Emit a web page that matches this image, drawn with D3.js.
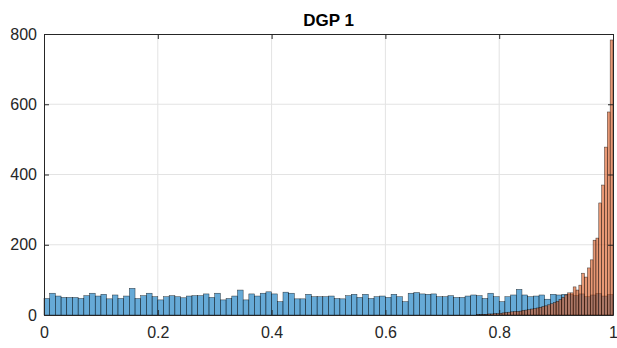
<!DOCTYPE html>
<html>
<head>
  <meta charset="utf-8">
  <title>DGP 1</title>
  <script src="https://d3js.org/d3.v7.min.js"></script>
  <style>
    body {
      margin: 0;
      background: #fff;
    }
    svg {
      display: block;
      font-family: "Liberation Sans", Arial, Helvetica, sans-serif;
    }
    .grid line {
      stroke: #e3e3e3;
      stroke-width: 1px;
    }
    .axis path, .axis line {
      stroke: #262626;
    }
    .axis text {
      fill: #262626;
      font-size: 16px;
    }
  </style>
</head>
<body>
  <svg width="617" height="348"></svg>

  <script>
    // Blue histogram: 100 bins of width 0.01 on [0, 1]
    const blueStart = 0, blueBinWidth = 0.01;
    const blueCounts = [
      47, 62, 54, 50, 50, 50, 47, 55, 62, 54,
      59, 46, 57, 47, 54, 76, 47, 55, 62, 52,
      43, 52, 55, 52, 49, 54, 55, 55, 60, 50,
      62, 43, 47, 54, 71, 43, 60, 54, 62, 66,
      60, 38, 65, 62, 46, 46, 59, 52, 52, 52,
      54, 47, 46, 55, 59, 50, 59, 47, 52, 54,
      50, 59, 52, 38, 62, 64, 60, 59, 60, 52,
      52, 55, 50, 50, 54, 57, 55, 47, 62, 52,
      38, 52, 57, 73, 57, 52, 54, 57, 45, 59,
      57, 59, 58, 55, 60, 52, 57, 61, 54, 58
    ];

    // Orange histogram: bins of width 0.005 starting at 0.76
    const orangeStart = 0.76, orangeBinWidth = 0.005;
    const orangeCounts = [
      1, 1, 2, 2, 3, 3, 4, 4, 5, 6,
      7, 8, 9, 10, 10, 11, 13, 14, 15, 17,
      18, 20, 22, 24, 26, 29, 32, 35, 39, 44,
      50, 57, 63, 63, 80, 71, 85, 119, 108, 134,
      157, 213, 219, 319, 370, 478, 578, 783
    ];

    const xTicks = [0, 0.2, 0.4, 0.6, 0.8, 1];
    const yTicks = [0, 200, 400, 600, 800];
    const title = "DGP 1";

    const svg = d3.select("svg");
    const margin = { left: 44, right: 4, top: 34, bottom: 33 };
    const width = +svg.attr("width"), height = +svg.attr("height");

    const x = d3.scaleLinear().domain([0, 1]).range([margin.left, width - margin.right]);
    const y = d3.scaleLinear().domain([0, 800]).range([height - margin.bottom, margin.top]);

    // turn counts into bins
    function toBins(start, w, counts) {
      return counts.map((c, i) => ({ x0: start + i * w, x1: start + (i + 1) * w, count: c }));
    }
    const blueBins = toBins(blueStart, blueBinWidth, blueCounts);
    const orangeBins = toBins(orangeStart, orangeBinWidth, orangeCounts);

    // grid lines (behind the bars)
    const grid = svg.append("g").attr("class", "grid");
    grid.selectAll("line.v").data(xTicks.slice(1, -1)).join("line")
      .attr("class", "v")
      .attr("x1", d => x(d)).attr("x2", d => x(d))
      .attr("y1", y(0)).attr("y2", y(800));
    grid.selectAll("line.h").data(yTicks.slice(1, -1)).join("line")
      .attr("class", "h")
      .attr("x1", x(0)).attr("x2", x(1))
      .attr("y1", d => y(d)).attr("y2", d => y(d));

    function drawBars(bins, color) {
      svg.append("g").selectAll("rect").data(bins).join("rect")
        .attr("x", d => x(d.x0))
        .attr("width", d => x(d.x1) - x(d.x0))
        .attr("y", d => y(d.count))
        .attr("height", d => y(0) - y(d.count))
        .attr("fill", color)
        .attr("fill-opacity", 0.6)
        .attr("stroke", "#000")
        .attr("stroke-opacity", 0.75)
        .attr("stroke-width", 0.5);
    }
    drawBars(blueBins, "#0072BD");
    drawBars(orangeBins, "#D95319");

    // axes, MATLAB style with ticks pointing inward
    svg.append("g").attr("class", "axis")
      .attr("transform", `translate(0,${y(0)})`)
      .call(d3.axisBottom(x).tickValues(xTicks).tickFormat(d3.format("~g"))
        .tickSizeInner(-5).tickSizeOuter(0).tickPadding(12));
    svg.append("g").attr("class", "axis")
      .attr("transform", `translate(${x(0)},0)`)
      .call(d3.axisLeft(y).tickValues(yTicks)
        .tickSizeInner(-5).tickSizeOuter(0).tickPadding(7));
    // top and right box sides
    svg.append("g").attr("class", "axis")
      .attr("transform", `translate(0,${y(800)})`)
      .call(d3.axisTop(x).tickValues(xTicks).tickFormat("").tickSizeInner(-5).tickSizeOuter(0));
    svg.append("g").attr("class", "axis")
      .attr("transform", `translate(${x(1)},0)`)
      .call(d3.axisRight(y).tickValues(yTicks).tickFormat("").tickSizeInner(-5).tickSizeOuter(0));

    svg.append("text")
      .attr("x", (x(0) + x(1)) / 2)
      .attr("y", 26)
      .attr("text-anchor", "middle")
      .attr("font-size", 17)
      .attr("font-weight", "bold")
      .attr("fill", "#000")
      .text(title);
  </script>
</body>
</html>
